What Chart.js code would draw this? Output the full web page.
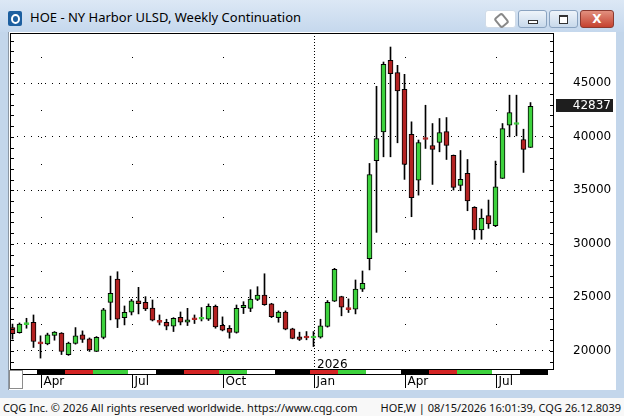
<!DOCTYPE html>
<html>
<head>
<meta charset="utf-8">
<script src="https://cdn.jsdelivr.net/npm/chart.js@4.4.1/dist/chart.umd.min.js"></script>
<style>
  html, body { margin: 0; padding: 0; }
  body { width: 624px; height: 416px; overflow: hidden; position: relative; background: #c3d6eb; font-family: "Noto Sans", sans-serif; }
  #titlebar { position: absolute; left: 0; top: 0; width: 624px; height: 32px; background: linear-gradient(#dce8f5, #c5d8ed); }
  #icon { position: absolute; left: 8px; top: 11px; width: 14px; height: 15px; background: #1d5f9f; border-radius: 2px; }
  #icon::after { content: ''; position: absolute; left: 3px; top: 3px; width: 5px; height: 6px; border: 2px solid #fff; border-radius: 50%; }
  #title { position: absolute; left: 30px; top: 8px; font-size: 13px; color: #000; white-space: nowrap; }
  .btn { position: absolute; top: 10px; height: 16px; border: 1px solid #8aa3c0; border-radius: 3px; background: linear-gradient(#eef4fa, #c8d9eb); }
  #pin { left: 485px; width: 29px; background: #fff; border-color: #d0dbe8; }
  #pin::after { content: ''; position: absolute; left: 10px; top: 3px; width: 7px; height: 9px; border: 2px solid #888; border-radius: 3px; transform: rotate(-40deg); }
  #min { left: 518px; width: 27px; }
  #min::after { content: ''; position: absolute; left: 9px; top: 9px; width: 8px; height: 2px; border: 1px solid #333; background: #fff; }
  #max { left: 549px; width: 27px; }
  #max::after { content: ''; position: absolute; left: 9px; top: 4px; width: 7px; height: 6px; border: 1px solid #333; border-top-width: 2px; background: #fff; }
  #close { left: 580px; width: 32px; border-color: #8b3a30; background: linear-gradient(#e2907f, #c5422f); color: #fff; font: bold 12px "DejaVu Sans", sans-serif; text-align: center; line-height: 16px; }
  #panel { position: absolute; left: 8px; top: 32px; width: 607px; height: 358px; background: #fff; border-left: 1px solid #8c98a6; }
  #status { position: absolute; left: 0; top: 398px; width: 624px; height: 18px; background: #f8f8f8; font-size: 11px; color: #111; }
  #status .l { position: absolute; left: 3px; top: 2px; white-space: nowrap; }
  #status .r { position: absolute; right: 3px; top: 2px; white-space: nowrap; }
  #corner { position: absolute; left: 9px; top: 370px; width: 12px; height: 17px; background: #fff; border: 1px solid #8c8c8c; z-index: 3; }
  canvas { position: absolute; left: 0; top: 0; z-index: 2; }
</style>
</head>
<body>
<div id="titlebar"></div>
<div id="icon"></div>
<div id="title">HOE - NY Harbor ULSD, Weekly Continuation</div>
<div class="btn" id="pin"></div>
<div class="btn" id="min"></div>
<div class="btn" id="max"></div>
<div class="btn" id="close">X</div>
<div id="panel"></div>
<div id="corner"></div>
<div id="status">
  <span class="l">CQG Inc. © 2026 All rights reserved worldwide. https://www.cqg.com</span>
  <span class="r">HOE,W | 08/15/2026 16:01:39, CQG 26.12.8039</span>
</div>
<canvas id="myChart" width="624" height="416"></canvas>
<script>
// Weekly OHLC, week 0 = week of 10 Mar 2025, week 74 = week of 10 Aug 2026
const open = [22170, 21700, 22450, 22670, 20750, 20650, 21430, 21650, 19630, 20680, 21490, 21120, 19940, 21240, 24530,
  26700, 23100, 23600, 24660, 24530, 24000, 22750, 22670, 22300, 23140, 22670, 23000, 22950, 22950, 24160,
  22390, 22110, 21710, 24040, 23970, 24810, 25210, 24380, 23100, 23630, 22050, 21310, 21250, 21200, 21280,
  22270, 24630, 25070, 23950, 23890, 25750, 28610, 37760, 40460, 47150, 46000, 44440, 40220, 35950, 39850,
  39190, 39470, 40490, 38260, 35460, 36580, 33400, 31290, 32630, 31690, 36110, 41090, 41150, 39750, 39000];
const high = [22500, 22600, 23040, 23350, 21400, 21650, 21800, 21700, 20810, 22170, 21860, 21200, 21330, 23970, 26980,
  27390, 24190, 24810, 25930, 25060, 24750, 23350, 22950, 23100, 23630, 23970, 23350, 24040, 24380, 24280,
  23170, 22360, 24280, 24590, 25710, 25990, 27200, 24440, 23730, 23730, 22110, 21740, 21800, 21800, 22950,
  24700, 27710, 25100, 24850, 26620, 27460, 37510, 44720, 46990, 48390, 46680, 45840, 41400, 39700, 42950,
  41240, 41710, 41800, 38300, 38720, 37880, 33470, 33250, 34090, 37730, 41240, 43890, 43890, 40710, 43200];
const low = [21100, 21650, 22110, 20310, 19320, 20560, 20990, 19650, 19570, 20620, 20780, 19940, 19930, 21120, 22890,
  22170, 22420, 23350, 23450, 23760, 22790, 22420, 21960, 21800, 22420, 22360, 22550, 22790, 22830, 22110,
  21860, 21180, 21650, 23480, 23660, 24690, 24250, 23100, 22670, 21960, 21120, 20960, 21030, 20400, 21180,
  22210, 24600, 23270, 23580, 23450, 25540, 27560, 31070, 38130, 38130, 39440, 36020, 32530, 34550, 38910,
  35550, 38600, 37880, 35020, 34960, 33090, 30420, 30420, 31440, 31600, 36100, 40000, 40090, 36670, 39000];
const close = [21600, 22500, 22500, 20870, 20650, 21490, 21740, 19940, 20720, 21400, 21060, 20090, 21270, 23820, 25370,
  22950, 23600, 24660, 24410, 23910, 22860, 22650, 22300, 23040, 22670, 22890, 22900, 23000, 24160, 22240,
  21930, 21710, 23970, 24250, 24840, 25210, 24310, 23200, 23630, 22020, 21150, 21060, 21200, 21250, 22330,
  24540, 27620, 24070, 23850, 25780, 26310, 36480, 39840, 46780, 45910, 44290, 37420, 34310, 39470, 39750,
  38820, 40400, 39190, 35270, 36020, 34000, 31290, 32410, 31850, 35330, 40770, 42270, 41250, 38820, 42837];

// price axis labels
const priceTicks = [20000, 25000, 30000, 35000, 40000, 45000];

// time axis: label weeks and month bands (week index where each month starts)
const labelWeeks = [4, 17, 30, 43, 56, 69];
const labelNames = ['Apr', 'Jul', 'Oct', 'Jan', 'Apr', 'Jul'];
const yearWeek = 43;
const yearName = '2026';
const monthStarts = [0, 4, 8, 12, 17, 21, 25, 30, 34, 38, 43, 47, 51, 56, 60, 64, 69, 73, 77];

const GREEN = '#3dd23d';
const RED = '#b32222';
const bandColors = ['#ffffff', '#000000', '#d42424', '#3dd23d'];
const FONT = '12px "DejaVu Sans"';

const candleColors = close.map((c, i) => c >= open[i] ? GREEN : RED);
const doji = close.map((c, i) => Math.abs(c - open[i]) <= 150);

// extra drawing: sparse grid dots, year line, frame, time strip, last price box
const cqgExtras = {
  id: 'cqgExtras',
  beforeDatasetsDraw(chart) {
    const { ctx, chartArea: a, scales: { x, y } } = chart;
    ctx.save();
    ctx.fillStyle = '#000';
    labelWeeks.forEach(w => {
      if (w === yearWeek) return;
      const px = Math.floor(x.getPixelForValue(w)) + 1;
      for (let v = 17500; v <= 50000; v += 2500) {
        const py = Math.round(y.getPixelForValue(v));
        if (py > a.top + 1 && py < a.bottom - 1) ctx.fillRect(px, py, 1, 1);
      }
    });
    const jx = Math.floor(x.getPixelForValue(yearWeek)) + 1.5;
    ctx.strokeStyle = '#000';
    ctx.lineWidth = 1;
    ctx.setLineDash([1, 2]);
    ctx.beginPath();
    ctx.moveTo(jx, a.top);
    ctx.lineTo(jx, a.bottom);
    ctx.stroke();
    ctx.setLineDash([]);
    ctx.font = FONT;
    ctx.textAlign = 'left';
    ctx.textBaseline = 'alphabetic';
    ctx.fillText(yearName, jx + 2.5, a.bottom - 2);
    ctx.restore();
  },
  afterDraw(chart) {
    const { ctx, chartArea: a, scales: { x, y } } = chart;
    ctx.save();
    ctx.strokeStyle = '#000';
    ctx.fillStyle = '#000';
    ctx.lineWidth = 1;
    // frame
    ctx.strokeRect(a.left + 0.5, a.top + 0.5, a.right - a.left - 1, a.bottom - a.top - 1);
    // small ticks every 1000 on both sides
    for (let v = 19000; v <= 49000; v += 1000) {
      const py = Math.round(y.getPixelForValue(v)) + 0.5;
      ctx.beginPath();
      ctx.moveTo(a.left, py); ctx.lineTo(a.left + 4, py);
      ctx.moveTo(a.right - 4, py); ctx.lineTo(a.right, py);
      ctx.stroke();
    }
    // month colour strip
    const sy = a.bottom;
    for (let k = 0; k < monthStarts.length - 1; k++) {
      const x0 = Math.round(x.getPixelForValue(monthStarts[k] - 0.5));
      const x1 = Math.round(x.getPixelForValue(monthStarts[k + 1] - 0.5));
      ctx.fillStyle = bandColors[k % 4];
      ctx.fillRect(x0, sy, x1 - x0, 4);
    }
    const xEnd = Math.round(x.getPixelForValue(monthStarts[monthStarts.length - 1] - 0.5));
    ctx.strokeStyle = '#000';
    ctx.beginPath();
    ctx.moveTo(a.left, sy + 4.5); ctx.lineTo(xEnd, sy + 4.5);
    ctx.stroke();
    // time labels
    ctx.fillStyle = '#000';
    ctx.font = FONT;
    ctx.textAlign = 'left';
    ctx.textBaseline = 'alphabetic';
    labelWeeks.forEach((w, k) => {
      const px = Math.floor(x.getPixelForValue(w)) + 1.5;
      ctx.beginPath();
      ctx.moveTo(px, sy + 5); ctx.lineTo(px, sy + 18);
      ctx.stroke();
      ctx.fillText(labelNames[k], px + 2, sy + 15);
    });
    // last price box
    const last = close[close.length - 1];
    const py = Math.round(y.getPixelForValue(last));
    ctx.fillStyle = '#1e1e1e';
    ctx.fillRect(a.right + 2, py - 7, 57, 13);
    ctx.fillStyle = '#fff';
    ctx.textAlign = 'right';
    ctx.textBaseline = 'middle';
    ctx.fillText(String(last), a.right + 57, py);
    ctx.restore();
  }
};

window.onload = function() {
  const ctx = document.getElementById('myChart').getContext('2d');
  new Chart(ctx, {
    type: 'bar',
    data: {
      datasets: [{
        label: 'body',
        data: close.map((c, i) => ({ x: i, y: [open[i], c] })),
        backgroundColor: candleColors,
        borderColor: candleColors.map((col, i) => doji[i] ? col : '#000'),
        borderWidth: 1,
        borderSkipped: false,
        barThickness: 5,
        minBarLength: 2,
        grouped: false,
        order: 0
      }, {
        label: 'wick',
        data: high.map((h, i) => ({ x: i, y: [low[i], h] })),
        backgroundColor: '#000',
        borderWidth: 0,
        barThickness: 1,
        grouped: false,
        order: 1
      }]
    },
    options: {
      responsive: false,
      animation: false,
      layout: { padding: { left: 10, top: 33, right: 0, bottom: 46 } },
      plugins: { legend: { display: false }, tooltip: { enabled: false } },
      scales: {
        x: { type: 'linear', min: -0.357, max: 77.357, offset: false, grid: { offset: false }, display: false },
        y: {
          position: 'right',
          min: 18206,
          max: 49701,
          afterBuildTicks: s => { s.ticks = priceTicks.map(v => ({ value: v })); },
          afterFit: s => { s.width = 70; },
          grid: { color: '#000', lineWidth: 1, drawTicks: false },
          border: { display: false, dash: [1, 6] },
          ticks: { color: '#000', font: { family: 'DejaVu Sans', size: 12 }, padding: 19, callback: v => String(v) }
        }
      }
    },
    plugins: [cqgExtras]
  });
};
</script>
</body>
</html>
